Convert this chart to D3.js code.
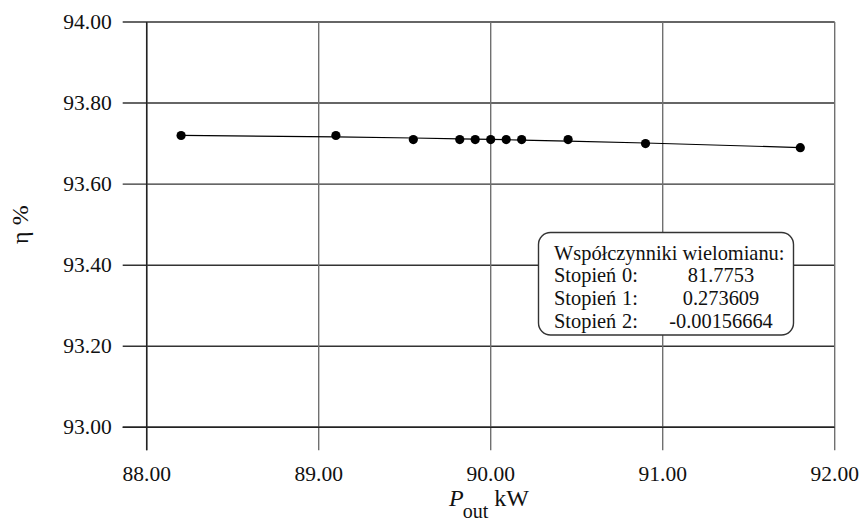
<!DOCTYPE html>
<html>
<head>
<meta charset="utf-8">
<script src="https://cdn.jsdelivr.net/npm/d3@7"></script>
<style>
  body { margin: 0; background: #fff; }
</style>
</head>
<body>
<div id="chart"></div>
<script>
// measured points (P_out kW, efficiency %)
const pOut = [88.2, 89.1, 89.55, 89.82, 89.91, 90.0, 90.09, 90.18, 90.45, 90.9, 91.8];
const eta = [93.72, 93.72, 93.71, 93.71, 93.71, 93.71, 93.71, 93.71, 93.71, 93.70, 93.69];

// polynomial coefficients from the legend box
const coefLabels = ["Stopień", "Stopień", "Stopień"];
const coefDegrees = ["0:", "1:", "2:"];
const coefValues = [81.7753, 0.273609, -0.00156664];
const coefText = ["81.7753", "0.273609", "-0.00156664"];

const xTicks = [88, 89, 90, 91, 92];
const yTicks = [93.0, 93.2, 93.4, 93.6, 93.8, 94.0];

const width = 863, height = 523;
const plotL = 146.7, plotR = 834.7, plotT = 22, plotB = 427.3;
const serif = "'Liberation Serif', 'DejaVu Serif', 'Times New Roman', serif";

const svg = d3.select("#chart").append("svg")
  .attr("width", width)
  .attr("height", height)
  .attr("font-family", serif)
  .style("font-family", serif);

const x = d3.scaleLinear().domain([88, 92]).range([plotL, plotR]);
const y = d3.scaleLinear().domain([93, 94]).range([plotB, plotT]);

// horizontal grid lines + left ticks
svg.append("g").selectAll("line")
  .data(yTicks)
  .join("line")
  .attr("x1", plotL - 24).attr("x2", plotR)
  .attr("y1", d => y(d)).attr("y2", d => y(d))
  .attr("stroke", "#333").attr("stroke-width", 1.4);

// vertical grid lines + bottom ticks
svg.append("g").selectAll("line")
  .data(xTicks)
  .join("line")
  .attr("x1", d => x(d)).attr("x2", d => x(d))
  .attr("y1", plotT).attr("y2", plotB + 23)
  .attr("stroke", "#707070").attr("stroke-width", 1.4);

// axis lines
svg.append("line")
  .attr("x1", plotL).attr("x2", plotL).attr("y1", plotT).attr("y2", plotB + 23)
  .attr("stroke", "#222").attr("stroke-width", 1.5);
svg.append("line")
  .attr("x1", plotL - 24).attr("x2", plotR).attr("y1", plotB).attr("y2", plotB)
  .attr("stroke", "#222").attr("stroke-width", 1.5);

// tick labels
svg.append("g").selectAll("text")
  .data(yTicks)
  .join("text")
  .attr("x", plotL - 35)
  .attr("y", d => y(d) + 7)
  .attr("text-anchor", "end")
  .attr("font-size", 21.5)
  .attr("fill", "#111")
  .text(d => d.toFixed(2));

svg.append("g").selectAll("text")
  .data(xTicks)
  .join("text")
  .attr("x", d => x(d))
  .attr("y", 481)
  .attr("text-anchor", "middle")
  .attr("font-size", 21.5)
  .attr("fill", "#111")
  .text(d => d.toFixed(2));

// axis titles
const xt = svg.append("text")
  .attr("x", 449).attr("y", 506)
  .attr("font-size", 24)
  .attr("fill", "#111");
xt.append("tspan").attr("font-style", "italic").text("P");
xt.append("tspan").attr("font-size", 20).attr("dy", 12).attr("dx", -1).text("out");
xt.append("tspan").attr("dy", -12).attr("dx", 6).text("kW");

svg.append("text")
  .attr("transform", `translate(28,${(plotT + plotB) / 2}) rotate(-90)`)
  .attr("text-anchor", "middle")
  .attr("font-size", 24)
  .attr("fill", "#111")
  .text("η %");

// fitted polynomial curve
const fit = v => coefValues[0] + coefValues[1] * v + coefValues[2] * v * v;
svg.append("path")
  .datum(pOut)
  .attr("fill", "none")
  .attr("stroke", "#000")
  .attr("stroke-width", 1.2)
  .attr("d", d3.line().x(d => x(d)).y(d => y(fit(d))));

// data points
svg.append("g").selectAll("circle")
  .data(pOut.map((p, i) => [p, eta[i]]))
  .join("circle")
  .attr("cx", d => x(d[0]))
  .attr("cy", d => y(d[1]))
  .attr("r", 4.6)
  .attr("fill", "#000");

// legend box
const lg = svg.append("g").attr("font-size", 20.4).attr("fill", "#111");
lg.append("rect")
  .attr("x", 538.5).attr("y", 232.5)
  .attr("width", 255).attr("height", 102.5)
  .attr("rx", 12).attr("ry", 12)
  .attr("fill", "#fff").attr("stroke", "#333").attr("stroke-width", 1.4);
lg.append("text")
  .attr("x", 554).attr("y", 260)
  .text("Współczynniki wielomianu:");
const rowY = [282, 305, 328];
coefLabels.forEach((lab, i) => {
  lg.append("text").attr("x", 554).attr("y", rowY[i]).text(lab);
  lg.append("text").attr("x", 622).attr("y", rowY[i]).text(coefDegrees[i]);
  lg.append("text").attr("x", 721).attr("y", rowY[i])
    .attr("text-anchor", "middle").text(coefText[i]);
});
</script>
</body>
</html>
